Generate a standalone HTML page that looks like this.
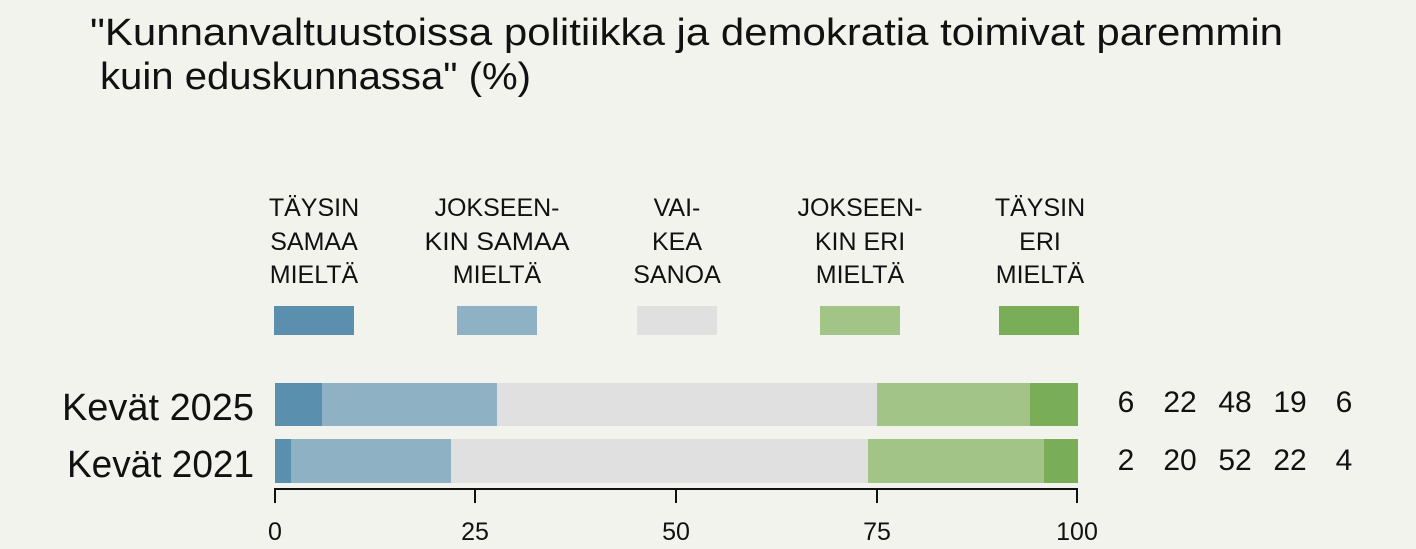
<!DOCTYPE html>
<html><head><meta charset="utf-8"><style>
html,body{margin:0;padding:0;background:#f3f3ee;}
svg{display:block;font-family:"Liberation Sans",sans-serif;}
</style></head><body>
<svg width="1416" height="549" xmlns="http://www.w3.org/2000/svg">
<rect width="1416" height="549" fill="#f3f3ee"/>
<text x="90" y="45" font-size="38" fill="#111" textLength="1193" lengthAdjust="spacingAndGlyphs">"Kunnanvaltuustoissa politiikka ja demokratia toimivat paremmin</text>
<text x="100" y="89" font-size="38" fill="#111" textLength="431" lengthAdjust="spacingAndGlyphs">kuin eduskunnassa" (%)</text>
<g font-size="25" fill="#111" text-anchor="middle">
<text x="314" y="216">TÄYSIN</text><text x="314" y="250">SAMAA</text><text x="314" y="283">MIELTÄ</text>
<text x="497" y="216">JOKSEEN-</text><text x="497" y="250" textLength="145" lengthAdjust="spacingAndGlyphs">KIN SAMAA</text><text x="497" y="283">MIELTÄ</text>
<text x="677" y="216">VAI-</text><text x="677" y="250">KEA</text><text x="677" y="283">SANOA</text>
<text x="860" y="216">JOKSEEN-</text><text x="860" y="250">KIN ERI</text><text x="860" y="283">MIELTÄ</text>
<text x="1040" y="216">TÄYSIN</text><text x="1040" y="250">ERI</text><text x="1040" y="283">MIELTÄ</text>
</g>
<rect x="274" y="306" width="80" height="29" fill="#5a8fae"/>
<rect x="457" y="306" width="80" height="29" fill="#8eb2c4"/>
<rect x="637" y="306" width="80" height="29" fill="#e0e0e0"/>
<rect x="820" y="306" width="80" height="29" fill="#a2c587"/>
<rect x="999" y="306" width="80" height="29" fill="#79ad57"/>
<g>
<rect x="275" y="383" width="47" height="43" fill="#5a8fae"/>
<rect x="322" y="383" width="175" height="43" fill="#8eb2c4"/>
<rect x="497" y="383" width="380" height="43" fill="#e0e0e0"/>
<rect x="877" y="383" width="153" height="43" fill="#a2c587"/>
<rect x="1030" y="383" width="48" height="43" fill="#79ad57"/>
<rect x="275" y="439" width="16" height="44" fill="#5a8fae"/>
<rect x="291" y="439" width="160" height="44" fill="#8eb2c4"/>
<rect x="451" y="439" width="417" height="44" fill="#e0e0e0"/>
<rect x="868" y="439" width="176" height="44" fill="#a2c587"/>
<rect x="1044" y="439" width="34" height="44" fill="#79ad57"/>
</g>
<text x="254" y="420" font-size="38" text-anchor="end" fill="#111" textLength="192" lengthAdjust="spacingAndGlyphs">Kevät 2025</text>
<text x="254" y="477" font-size="38" text-anchor="end" fill="#111" textLength="187" lengthAdjust="spacingAndGlyphs">Kevät 2021</text>
<g font-size="30" fill="#111" text-anchor="middle">
<text x="1126" y="412">6</text><text x="1180" y="412">22</text><text x="1235" y="412">48</text><text x="1290" y="412">19</text><text x="1344" y="412">6</text>
<text x="1126" y="470">2</text><text x="1180" y="470">20</text><text x="1235" y="470">52</text><text x="1290" y="470">22</text><text x="1344" y="470">4</text>
</g>
<g stroke="#111" stroke-width="2" fill="none">
<line x1="275" y1="489" x2="1078" y2="489"/>
<line x1="275" y1="488" x2="275" y2="503"/>
<line x1="475" y1="488" x2="475" y2="503"/>
<line x1="676" y1="488" x2="676" y2="503"/>
<line x1="877" y1="488" x2="877" y2="503"/>
<line x1="1077" y1="488" x2="1077" y2="503"/>
</g>
<g font-size="25" fill="#111" text-anchor="middle">
<text x="275" y="540">0</text><text x="475" y="540">25</text><text x="676" y="540">50</text><text x="877" y="540">75</text><text x="1077" y="540">100</text>
</g>
</svg>
</body></html>
